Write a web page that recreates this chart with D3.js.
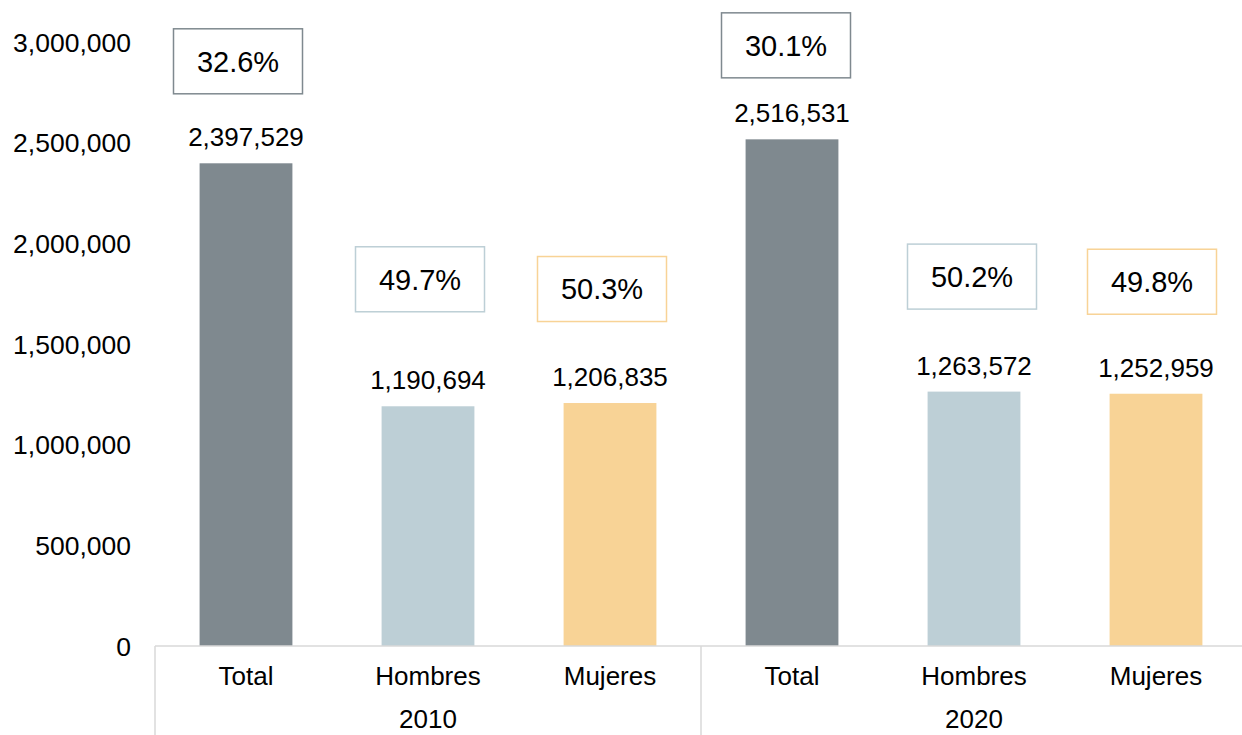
<!DOCTYPE html>
<html>
<head>
<meta charset="utf-8">
<script src="https://cdn.jsdelivr.net/npm/d3@7"></script>
<style>
body { margin: 0; background: #fff; }
text { font-family: "Liberation Sans", Arial, sans-serif; fill: #000; }
</style>
</head>
<body>
<div class="content"></div>
<script>
var size = {width: 1242, height: 735};
var padding = {left: 155, right: -5, top: 42, bottom: 89};

// data
var years = ["2010", "2020"];
var categories = ["Total", "Hombres", "Mujeres"];
var values2010 = [2397529, 1190694, 1206835];
var values2020 = [2516531, 1263572, 1252959];
var pct2010 = ["32.6%", "49.7%", "50.3%"];
var pct2020 = ["30.1%", "50.2%", "49.8%"];
var yTicks = [0, 500000, 1000000, 1500000, 2000000, 2500000, 3000000];

var fills = {Total: "#7f898f", Hombres: "#bdcfd6", Mujeres: "#f8d396"};
var boxStroke = {Total: "#7f898f", Hombres: "#bdcfd6", Mujeres: "#f8d396"};
// manual placement of the percent boxes (px above bar top, px shift in x)
var boxLift = [[102, 127, 114], [94, 115, 112]];
var boxShift = [[-8, -8, -8], [-6, -2, -4]];

var rows = [];
years.forEach(function(y, yi) {
    var vals = yi == 0 ? values2010 : values2020;
    var pcts = yi == 0 ? pct2010 : pct2020;
    categories.forEach(function(c, ci) {
        rows.push({year: y, cat: c, value: vals[ci], pct: pcts[ci], yi: yi, ci: ci});
    });
});

var chart = d3.select('.content')
    .append('svg')
    .attr('width', size.width)
    .attr('height', size.height);

var xYear = d3.scaleBand()
    .domain(years)
    .range([padding.left, size.width - padding.right]);
var xCat = d3.scaleBand()
    .domain(categories)
    .range([0, xYear.bandwidth()])
    .paddingInner(0.49)
    .paddingOuter(0.245);
var yScale = d3.scaleLinear()
    .domain([0, 3000000])
    .range([size.height - padding.bottom, padding.top]);

function cx(d) { return xYear(d.year) + xCat(d.cat) + xCat.bandwidth() / 2; }

// y axis labels only
var yAxis = d3.axisLeft(yScale).tickValues(yTicks).tickFormat(d3.format(",")).tickSize(0).tickPadding(0);
var yAxisObj = chart.append('g')
    .attr("transform", "translate(131,0)")
    .call(yAxis);
yAxisObj.select(".domain").remove();
yAxisObj.selectAll("text")
    .attr("dy", "0.35em")
    .style("font-size", "26.5px")
    .style("font-family", "'Liberation Sans', Arial, sans-serif")
    .attr("fill", "#000");

// bars
chart.selectAll("rect.bar").data(rows).enter().append("rect")
    .attr("class", "bar")
    .attr("x", function(d) { return xYear(d.year) + xCat(d.cat); })
    .attr("width", xCat.bandwidth())
    .attr("y", function(d) { return yScale(d.value); })
    .attr("height", function(d) { return yScale(0) - yScale(d.value); })
    .attr("fill", function(d) { return fills[d.cat]; });

// value labels
chart.selectAll("text.val").data(rows).enter().append("text")
    .attr("class", "val")
    .attr("x", cx)
    .attr("y", function(d) { return yScale(d.value) - 17; })
    .attr("text-anchor", "middle")
    .style("font-size", "26px")
    .text(function(d) { return d3.format(",")(d.value); });

// percent boxes
var boxW = 129, boxH = 65;
var pg = chart.selectAll("g.pct").data(rows).enter().append("g")
    .attr("class", "pct")
    .attr("transform", function(d) {
        return "translate(" + (cx(d) + boxShift[d.yi][d.ci]) + "," + (yScale(d.value) - boxLift[d.yi][d.ci]) + ")";
    });
pg.append("rect")
    .attr("x", -boxW / 2).attr("y", -boxH / 2)
    .attr("width", boxW).attr("height", boxH)
    .attr("fill", "#fff")
    .attr("stroke", function(d) { return boxStroke[d.cat]; })
    .attr("stroke-width", 1.5);
pg.append("text")
    .attr("text-anchor", "middle")
    .attr("dy", "0.36em")
    .style("font-size", "29px")
    .text(function(d) { return d.pct; });

// x axis line and group separators
var y0 = yScale(0);
chart.append("line")
    .attr("x1", padding.left).attr("x2", size.width)
    .attr("y1", y0).attr("y2", y0)
    .attr("stroke", "#d9d9d9").attr("stroke-width", 1.5);
chart.selectAll("line.sep").data(years).enter().append("line")
    .attr("class", "sep")
    .attr("x1", function(d) { return xYear(d); })
    .attr("x2", function(d) { return xYear(d); })
    .attr("y1", y0).attr("y2", size.height)
    .attr("stroke", "#d9d9d9").attr("stroke-width", 1.5);

// category labels
chart.selectAll("text.cat").data(rows).enter().append("text")
    .attr("class", "cat")
    .attr("x", cx)
    .attr("y", y0 + 39)
    .attr("text-anchor", "middle")
    .style("font-size", "26px")
    .text(function(d) { return d.cat; });

// year labels
chart.selectAll("text.year").data(years).enter().append("text")
    .attr("class", "year")
    .attr("x", function(d) { return xYear(d) + xYear.bandwidth() / 2; })
    .attr("y", y0 + 82)
    .attr("text-anchor", "middle")
    .style("font-size", "26px")
    .text(function(d) { return d; });
</script>
</body>
</html>
